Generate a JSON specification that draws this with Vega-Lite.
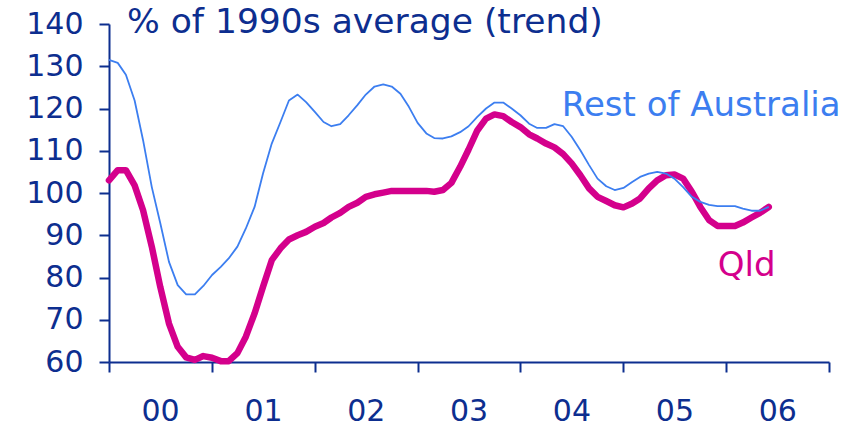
{
  "$schema": "https://vega.github.io/schema/vega-lite/v6.json",
  "width": 720,
  "height": 338,
  "autosize": "none",
  "padding": {"left": 109, "top": 24, "right": 32, "bottom": 64},
  "background": "white",
  "config": {"view": {"stroke": null}},
  "title": {"text": "% of 1990s average (trend)", "anchor": "start", "frame": "group", "font": "DejaVu Sans", "fontSize": 34.5, "fontWeight": "normal", "color": "#0d2e8f", "dx": 18, "baseline": "alphabetic", "offset": 0, "dy": 58},
  "datasets": {
    "series": [
      {"date":"2000-01-01","series":"Qld","value":103.0},{"date":"2000-02-01","series":"Qld","value":105.4},{"date":"2000-03-01","series":"Qld","value":105.4},{"date":"2000-04-01","series":"Qld","value":101.8},{"date":"2000-05-01","series":"Qld","value":95.9},{"date":"2000-06-01","series":"Qld","value":87.3},{"date":"2000-07-01","series":"Qld","value":77.8},{"date":"2000-08-01","series":"Qld","value":69.1},{"date":"2000-09-01","series":"Qld","value":63.6},{"date":"2000-10-01","series":"Qld","value":61.1},{"date":"2000-11-01","series":"Qld","value":60.5},{"date":"2000-12-01","series":"Qld","value":61.4},
      {"date":"2001-01-01","series":"Qld","value":61.0},{"date":"2001-02-01","series":"Qld","value":60.2},{"date":"2001-03-01","series":"Qld","value":60.2},{"date":"2001-04-01","series":"Qld","value":62.1},{"date":"2001-05-01","series":"Qld","value":66.0},{"date":"2001-06-01","series":"Qld","value":71.5},{"date":"2001-07-01","series":"Qld","value":77.8},{"date":"2001-08-01","series":"Qld","value":84.1},{"date":"2001-09-01","series":"Qld","value":86.9},{"date":"2001-10-01","series":"Qld","value":89.0},{"date":"2001-11-01","series":"Qld","value":90.0},{"date":"2001-12-01","series":"Qld","value":90.8},
      {"date":"2002-01-01","series":"Qld","value":92.0},{"date":"2002-02-01","series":"Qld","value":92.9},{"date":"2002-03-01","series":"Qld","value":94.2},{"date":"2002-04-01","series":"Qld","value":95.3},{"date":"2002-05-01","series":"Qld","value":96.7},{"date":"2002-06-01","series":"Qld","value":97.7},{"date":"2002-07-01","series":"Qld","value":99.1},{"date":"2002-08-01","series":"Qld","value":99.7},{"date":"2002-09-01","series":"Qld","value":100.1},{"date":"2002-10-01","series":"Qld","value":100.5},{"date":"2002-11-01","series":"Qld","value":100.5},{"date":"2002-12-01","series":"Qld","value":100.5},
      {"date":"2003-01-01","series":"Qld","value":100.5},{"date":"2003-02-01","series":"Qld","value":100.5},{"date":"2003-03-01","series":"Qld","value":100.3},{"date":"2003-04-01","series":"Qld","value":100.7},{"date":"2003-05-01","series":"Qld","value":102.4},{"date":"2003-06-01","series":"Qld","value":106.2},{"date":"2003-07-01","series":"Qld","value":110.3},{"date":"2003-08-01","series":"Qld","value":114.8},{"date":"2003-09-01","series":"Qld","value":117.6},{"date":"2003-10-01","series":"Qld","value":118.6},{"date":"2003-11-01","series":"Qld","value":118.2},{"date":"2003-12-01","series":"Qld","value":116.8},
      {"date":"2004-01-01","series":"Qld","value":115.6},{"date":"2004-02-01","series":"Qld","value":113.9},{"date":"2004-03-01","series":"Qld","value":112.9},{"date":"2004-04-01","series":"Qld","value":111.7},{"date":"2004-05-01","series":"Qld","value":110.8},{"date":"2004-06-01","series":"Qld","value":109.2},{"date":"2004-07-01","series":"Qld","value":107.0},{"date":"2004-08-01","series":"Qld","value":104.2},{"date":"2004-09-01","series":"Qld","value":101.1},{"date":"2004-10-01","series":"Qld","value":99.1},{"date":"2004-11-01","series":"Qld","value":98.1},{"date":"2004-12-01","series":"Qld","value":97.1},
      {"date":"2005-01-01","series":"Qld","value":96.6},{"date":"2005-02-01","series":"Qld","value":97.5},{"date":"2005-03-01","series":"Qld","value":98.7},{"date":"2005-04-01","series":"Qld","value":101.1},{"date":"2005-05-01","series":"Qld","value":103.0},{"date":"2005-06-01","series":"Qld","value":104.2},{"date":"2005-07-01","series":"Qld","value":104.4},{"date":"2005-08-01","series":"Qld","value":103.4},{"date":"2005-09-01","series":"Qld","value":100.3},{"date":"2005-10-01","series":"Qld","value":96.7},{"date":"2005-11-01","series":"Qld","value":93.6},{"date":"2005-12-01","series":"Qld","value":92.2},
      {"date":"2006-01-01","series":"Qld","value":92.2},{"date":"2006-02-01","series":"Qld","value":92.2},{"date":"2006-03-01","series":"Qld","value":93.0},{"date":"2006-04-01","series":"Qld","value":94.2},{"date":"2006-05-01","series":"Qld","value":95.3},{"date":"2006-06-01","series":"Qld","value":96.7},
      {"date":"2000-01-01","series":"Rest of Australia","value":131.5},{"date":"2000-02-01","series":"Rest of Australia","value":130.8},{"date":"2000-03-01","series":"Rest of Australia","value":128.0},{"date":"2000-04-01","series":"Rest of Australia","value":121.9},{"date":"2000-05-01","series":"Rest of Australia","value":112.5},{"date":"2000-06-01","series":"Rest of Australia","value":101.4},{"date":"2000-07-01","series":"Rest of Australia","value":92.9},{"date":"2000-08-01","series":"Rest of Australia","value":83.7},{"date":"2000-09-01","series":"Rest of Australia","value":78.2},{"date":"2000-10-01","series":"Rest of Australia","value":76.0},{"date":"2000-11-01","series":"Rest of Australia","value":76.0},{"date":"2000-12-01","series":"Rest of Australia","value":78.0},
      {"date":"2001-01-01","series":"Rest of Australia","value":80.6},{"date":"2001-02-01","series":"Rest of Australia","value":82.5},{"date":"2001-03-01","series":"Rest of Australia","value":84.5},{"date":"2001-04-01","series":"Rest of Australia","value":87.3},{"date":"2001-05-01","series":"Rest of Australia","value":91.6},{"date":"2001-06-01","series":"Rest of Australia","value":96.7},{"date":"2001-07-01","series":"Rest of Australia","value":104.6},{"date":"2001-08-01","series":"Rest of Australia","value":111.7},{"date":"2001-09-01","series":"Rest of Australia","value":116.8},{"date":"2001-10-01","series":"Rest of Australia","value":121.9},{"date":"2001-11-01","series":"Rest of Australia","value":123.3},{"date":"2001-12-01","series":"Rest of Australia","value":121.5},
      {"date":"2002-01-01","series":"Rest of Australia","value":119.2},{"date":"2002-02-01","series":"Rest of Australia","value":116.8},{"date":"2002-03-01","series":"Rest of Australia","value":115.8},{"date":"2002-04-01","series":"Rest of Australia","value":116.3},{"date":"2002-05-01","series":"Rest of Australia","value":118.4},{"date":"2002-06-01","series":"Rest of Australia","value":120.8},{"date":"2002-07-01","series":"Rest of Australia","value":123.3},{"date":"2002-08-01","series":"Rest of Australia","value":125.2},{"date":"2002-09-01","series":"Rest of Australia","value":125.7},{"date":"2002-10-01","series":"Rest of Australia","value":125.2},{"date":"2002-11-01","series":"Rest of Australia","value":123.5},{"date":"2002-12-01","series":"Rest of Australia","value":120.4},
      {"date":"2003-01-01","series":"Rest of Australia","value":116.6},{"date":"2003-02-01","series":"Rest of Australia","value":114.1},{"date":"2003-03-01","series":"Rest of Australia","value":113.0},{"date":"2003-04-01","series":"Rest of Australia","value":112.9},{"date":"2003-05-01","series":"Rest of Australia","value":113.4},{"date":"2003-06-01","series":"Rest of Australia","value":114.4},{"date":"2003-07-01","series":"Rest of Australia","value":115.8},{"date":"2003-08-01","series":"Rest of Australia","value":118.0},{"date":"2003-09-01","series":"Rest of Australia","value":120.0},{"date":"2003-10-01","series":"Rest of Australia","value":121.4},{"date":"2003-11-01","series":"Rest of Australia","value":121.4},{"date":"2003-12-01","series":"Rest of Australia","value":120.0},
      {"date":"2004-01-01","series":"Rest of Australia","value":118.4},{"date":"2004-02-01","series":"Rest of Australia","value":116.4},{"date":"2004-03-01","series":"Rest of Australia","value":115.4},{"date":"2004-04-01","series":"Rest of Australia","value":115.4},{"date":"2004-05-01","series":"Rest of Australia","value":116.3},{"date":"2004-06-01","series":"Rest of Australia","value":115.8},{"date":"2004-07-01","series":"Rest of Australia","value":113.3},{"date":"2004-08-01","series":"Rest of Australia","value":110.1},{"date":"2004-09-01","series":"Rest of Australia","value":106.6},{"date":"2004-10-01","series":"Rest of Australia","value":103.4},{"date":"2004-11-01","series":"Rest of Australia","value":101.6},{"date":"2004-12-01","series":"Rest of Australia","value":100.7},
      {"date":"2005-01-01","series":"Rest of Australia","value":101.2},{"date":"2005-02-01","series":"Rest of Australia","value":102.6},{"date":"2005-03-01","series":"Rest of Australia","value":103.8},{"date":"2005-04-01","series":"Rest of Australia","value":104.6},{"date":"2005-05-01","series":"Rest of Australia","value":105.0},{"date":"2005-06-01","series":"Rest of Australia","value":104.6},{"date":"2005-07-01","series":"Rest of Australia","value":103.4},{"date":"2005-08-01","series":"Rest of Australia","value":101.4},{"date":"2005-09-01","series":"Rest of Australia","value":99.1},{"date":"2005-10-01","series":"Rest of Australia","value":97.9},{"date":"2005-11-01","series":"Rest of Australia","value":97.2},{"date":"2005-12-01","series":"Rest of Australia","value":96.9},
      {"date":"2006-01-01","series":"Rest of Australia","value":96.9},{"date":"2006-02-01","series":"Rest of Australia","value":96.9},{"date":"2006-03-01","series":"Rest of Australia","value":96.3},{"date":"2006-04-01","series":"Rest of Australia","value":95.8},{"date":"2006-05-01","series":"Rest of Australia","value":95.8},{"date":"2006-06-01","series":"Rest of Australia","value":96.7}
    ],
    "labels": [
      {"date":"2004-05-27","series":"Rest of Australia","value":118.2,"label":"Rest of Australia"},
      {"date":"2005-12-02","series":"Qld","value":80.3,"label":"Qld"}
    ]
  },
  "encoding": {
    "x": {"field": "date", "type": "temporal",
      "scale": {"type": "utc", "domain": ["2000-01-01", "2007-01-01"]},
      "axis": {"title": null, "grid": false, "domainColor": "#0d2e8f", "domainWidth": 2, "tickColor": "#0d2e8f", "tickWidth": 2, "tickSize": 10,
        "values": [{"year":2000,"utc":true},{"year":2001,"utc":true},{"year":2002,"utc":true},{"year":2003,"utc":true},{"year":2004,"utc":true},{"year":2005,"utc":true},{"year":2006,"utc":true},{"year":2007,"utc":true}],
        "labelExpr": "utcyear(datum.value) < 2007 ? utcFormat(datum.value, '%y') : ''",
        "labelOffset": 51, "labelAlign": "center", "labelBaseline": "alphabetic", "labelPadding": 48,
        "labelFont": "DejaVu Sans", "labelFontSize": 30, "labelColor": "#0d2e8f",
        "labelOverlap": false, "labelBound": false, "labelFlush": false}},
    "y": {"field": "value", "type": "quantitative",
      "scale": {"domain": [60, 140], "nice": false, "zero": false},
      "axis": {"title": null, "grid": false, "values": [60,70,80,90,100,110,120,130,140],
        "domainColor": "#0d2e8f", "domainWidth": 2, "tickColor": "#0d2e8f", "tickWidth": 2, "tickSize": 10,
        "labelFont": "DejaVu Sans", "labelFontSize": 30, "labelColor": "#0d2e8f", "labelPadding": 16,
        "labelOverlap": false, "labelBound": false, "labelFlush": false}},
    "color": {"field": "series", "type": "nominal",
      "scale": {"domain": ["Qld", "Rest of Australia"], "range": ["#d4008c", "#3c7ef0"]}, "legend": null}
  },
  "layer": [
    {"data": {"name": "series"}, "transform": [{"filter": "datum.series === 'Qld'"}],
     "mark": {"type": "line", "strokeWidth": 6.5, "strokeJoin": "round", "strokeCap": "round"}},
    {"data": {"name": "series"}, "transform": [{"filter": "datum.series === 'Rest of Australia'"}],
     "mark": {"type": "line", "strokeWidth": 1.8, "strokeJoin": "round"}},
    {"data": {"name": "labels"},
     "mark": {"type": "text", "align": "left", "baseline": "alphabetic", "font": "DejaVu Sans", "fontSize": 34},
     "encoding": {"text": {"field": "label"}}}
  ]
}
